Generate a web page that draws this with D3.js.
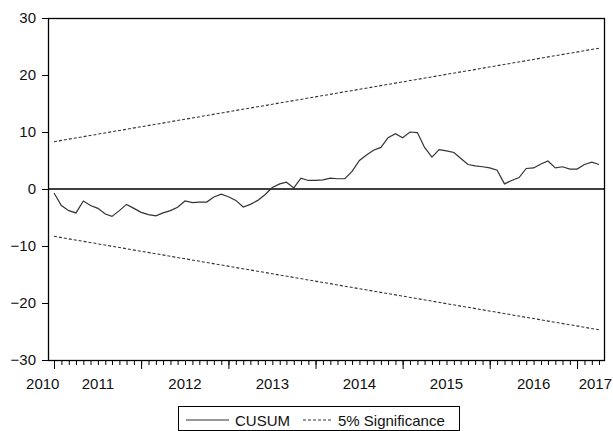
<!DOCTYPE html>
<head>
  <meta charset="utf-8">
  <script src="https://d3js.org/d3.v7.min.js"></script>
  <style>
    body { margin:0; background-color:#ffffff; }
    svg { display:block; }
    text { font-family: "Liberation Sans", Arial, sans-serif; fill:#111; }
  </style>
</head>
<body>
<div class="chart-container"></div>
<script>
// monthly observations, Jul 2010 .. Oct 2016
var startMonth = new Date(2010, 6, 1),
    endMonth = new Date(2016, 10, 1);
var months = d3.timeMonth.range(startMonth, endMonth);

var cusum = [-0.7, -2.9, -3.8, -4.2, -2.1, -2.9, -3.4, -4.4, -4.8, -3.8,
             -2.7, -3.4, -4.1, -4.5, -4.7, -4.2, -3.8, -3.2, -2.1, -2.4,
             -2.3, -2.3, -1.4, -0.9, -1.35, -2.0, -3.15, -2.7, -2.0, -1.0,
             0.25, 0.9, 1.2, 0.2, 1.9, 1.5, 1.5, 1.6, 1.9, 1.8,
             1.8, 3.1, 5.0, 6.0, 6.8, 7.3, 9.0, 9.7, 9.0, 10.0,
             9.9, 7.3, 5.6, 6.9, 6.7, 6.4, 5.4, 4.3, 4.05, 3.9,
             3.7, 3.3, 0.9, 1.5, 2.0, 3.6, 3.7, 4.4, 4.9, 3.7,
             3.9, 3.5, 3.5, 4.3, 4.7, 4.3];

// 5% significance bounds, first and last observation
var upperBound = [8.3, 24.7];
var lowerBound = [-8.3, -24.7];

var yTicks = [-30, -20, -10, 0, 10, 20, 30];
var yearLabels = ["2010", "2011", "2012", "2013", "2014", "2015", "2016", "2017"];
var labelDates = [new Date(2010, 4, 15), new Date(2011, 0, 1), new Date(2012, 0, 1),
                  new Date(2013, 0, 1), new Date(2014, 0, 1), new Date(2015, 0, 1),
                  new Date(2016, 0, 1), new Date(2016, 9, 1)];
var legendNames = ["CUSUM", "5% Significance"];

var width = 613, height = 431;
var plotLeft = 48, plotRight = 604, plotTop = 18, plotBottom = 360;

var svg = d3.select(".chart-container").append("svg")
  .attr("width", width)
  .attr("height", height);

var x = d3.scaleTime()
  .domain([months[0], months[months.length - 1]])
  .range([54, 599]);

var y = d3.scaleLinear()
  .domain([-30, 30])
  .range([plotBottom, plotTop]);

// y axis
var yAxis = d3.axisLeft(y).tickValues(yTicks).tickSize(6).tickPadding(6);
var gy = svg.append("g")
  .attr("transform", "translate(" + plotLeft + ",0)")
  .call(yAxis);
gy.select(".domain").remove();
gy.selectAll("line").attr("stroke", "#000");
gy.selectAll("text").style("font-size", "15px").attr("fill", "#111")
  .style("font-family", "'Liberation Sans', Arial, sans-serif");

// x axis: minor monthly ticks, major ticks every July
var minorAxis = d3.axisBottom(x).tickValues(months).tickSize(5).tickFormat("");
var gxMinor = svg.append("g")
  .attr("transform", "translate(0," + plotBottom + ")")
  .call(minorAxis);
gxMinor.select(".domain").remove();
gxMinor.selectAll("line").attr("stroke", "#000");

var majorMonths = months.filter(function (d) { return d.getMonth() == 6; });
var majorAxis = d3.axisBottom(x).tickValues(majorMonths).tickSize(9).tickFormat("");
var gxMajor = svg.append("g")
  .attr("transform", "translate(0," + plotBottom + ")")
  .call(majorAxis);
gxMajor.select(".domain").remove();
gxMajor.selectAll("line").attr("stroke", "#000");

// last label is pushed against the right edge, like the original
svg.selectAll(".year")
  .data(yearLabels)
  .enter().append("text")
  .attr("class", "year")
  .attr("x", function (d, i) {
    var px = x(labelDates[i]);
    return i == yearLabels.length - 1 ? Math.min(px + 17, width - 1) : px;
  })
  .attr("y", 389)
  .attr("text-anchor", function (d, i) { return i == yearLabels.length - 1 ? "end" : "middle"; })
  .style("font-size", "15px")
  .text(function (d) { return d; });

// zero line
svg.append("line")
  .attr("x1", plotLeft).attr("x2", plotRight)
  .attr("y1", y(0)).attr("y2", y(0))
  .attr("stroke", "#000")
  .attr("stroke-width", 1.3);

// significance bounds
var firstLast = [months[0], months[months.length - 1]];
var line = d3.line()
  .x(function (d, i) { return x(firstLast[i]); })
  .y(function (d) { return y(d); });

[upperBound, lowerBound].forEach(function (b) {
  svg.append("path")
    .attr("d", line(b))
    .attr("fill", "none")
    .attr("stroke", "#333")
    .attr("stroke-width", 1.1)
    .attr("stroke-dasharray", "3,2");
});

// cusum line
var cusumLine = d3.line()
  .x(function (d, i) { return x(months[i]); })
  .y(function (d) { return y(d); });

svg.append("path")
  .attr("d", cusumLine(cusum))
  .attr("fill", "none")
  .attr("stroke", "#333")
  .attr("stroke-width", 1.2);

// frame
svg.append("rect")
  .attr("x", plotLeft + 0.5).attr("y", plotTop + 0.5)
  .attr("width", plotRight - plotLeft).attr("height", plotBottom - plotTop)
  .attr("fill", "none")
  .attr("stroke", "#000")
  .attr("stroke-width", 1.3);

// legend
var lg = svg.append("g");
lg.append("rect")
  .attr("x", 178.5).attr("y", 406.5)
  .attr("width", 281).attr("height", 24)
  .attr("fill", "#fff")
  .attr("stroke", "#000");
lg.append("line")
  .attr("x1", 186).attr("x2", 229).attr("y1", 420).attr("y2", 420)
  .attr("stroke", "#333");
lg.append("text")
  .attr("x", 235).attr("y", 426)
  .style("font-size", "15px")
  .text(legendNames[0]);
lg.append("line")
  .attr("x1", 303).attr("x2", 333).attr("y1", 420).attr("y2", 420)
  .attr("stroke", "#333")
  .attr("stroke-dasharray", "3,2");
lg.append("text")
  .attr("x", 338).attr("y", 426)
  .style("font-size", "15px")
  .text(legendNames[1]);
</script>
</body>
